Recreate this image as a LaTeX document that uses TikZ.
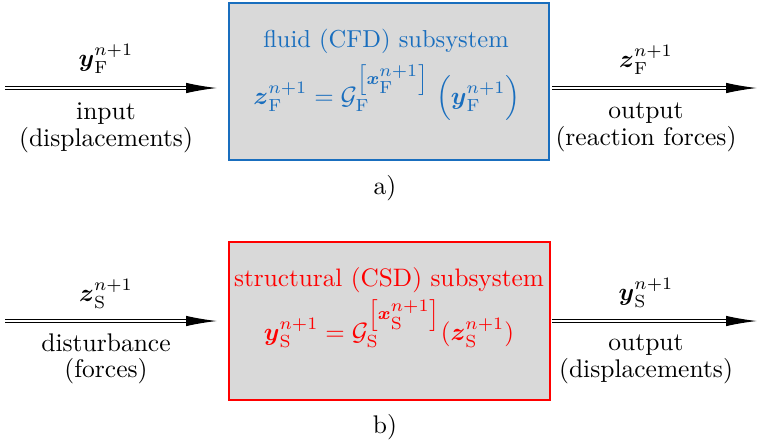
\documentclass[tikz,border=0pt]{standalone}
\usepackage{amsmath}
\usetikzlibrary{arrows.meta}
\definecolor{cfdblue}{RGB}{25,110,190}
\definecolor{csdred}{RGB}{255,0,0}
\definecolor{boxgray}{gray}{0.85}
\newcommand{\supbr}[1]{\left[\boldsymbol{x}^{\scriptstyle n+1}_{\scriptstyle\mathrm{#1}}\right]}
\begin{document}
\begin{tikzpicture}[x=0.4pt,y=-0.4pt,
  sysbox/.style={draw, line width=0.6pt, fill=boxgray, inner sep=0pt},
  lbl/.style={anchor=base, inner sep=0pt, font=\fontsize{10.2}{12}\selectfont},
  boxtxt/.style={anchor=base, inner sep=0pt, font=\fontsize{9.8}{12}\selectfont},
  dblline/.style={double, double distance=0.8pt, line width=0.5pt},
  tiparrow/.style={-{Latex[length=12.4pt,width=4.2pt]}, line width=0.5pt},
]
\useasboundingbox (0,0) rectangle (758,441);
% boxes
\node[sysbox, draw=cfdblue, minimum width=128pt, minimum height=62.8pt] (fbox) at (389,81.5) {};
\node[sysbox, draw=csdred, minimum width=128.4pt, minimum height=63.2pt] (sbox) at (389.5,321) {};
% arrow end points
\coordinate (fin) at (5,88);   \coordinate (fintip) at (217,88);
\coordinate (fout) at (552,88); \coordinate (fouttip) at (757,88);
\coordinate (sin) at (5,321);   \coordinate (sintip) at (217,321);
\coordinate (sout) at (552,321); \coordinate (souttip) at (757,321);
% arrows
\foreach \a/\b in {fin/fintip, fout/fouttip, sin/sintip, sout/souttip}{
  \draw[dblline] (\a) -- ([xshift=-8pt]\b);
  \draw[tiparrow] ([xshift=-9pt]\b) -- (\b);
}
% top labels
\node[lbl] (yF) at (106,66) {$\boldsymbol{y}^{n+1}_{\mathrm{F}}$};
\node[lbl] (inp) at (106,119) {input};
\node[lbl] (inp2) at (106,146) {(displacements)};
\node[lbl] (zF) at (646,67) {$\boldsymbol{z}^{n+1}_{\mathrm{F}}$};
\node[lbl] (outf) at (646,118) {output};
\node[lbl] (outf2) at (646,145) {(reaction forces)};
% bottom labels
\node[lbl] (zS) at (106,301) {$\boldsymbol{z}^{n+1}_{\mathrm{S}}$};
\node[lbl] (dist) at (106,351) {disturbance};
\node[lbl] (dist2) at (106,377) {(forces)};
\node[lbl] (yS) at (646,300) {$\boldsymbol{y}^{n+1}_{\mathrm{S}}$};
\node[lbl] (outs) at (646,350) {output};
\node[lbl] (outs2) at (646,377) {(displacements)};
% box texts
\node[boxtxt, text=cfdblue] (ftitle) at (386,47) {fluid (CFD) subsystem};
\node[boxtxt, text=cfdblue] (feq) at (387,104) {$\boldsymbol{z}^{n+1}_{\mathrm{F}} = \mathcal{G}_{\mathrm{F}}^{\supbr{F}}\;\Big(\boldsymbol{y}^{n+1}_{\mathrm{F}}\Big)$};
\node[boxtxt, font=\fontsize{10.1}{12}\selectfont, text=csdred] (stitle) at (389,286) {structural (CSD) subsystem};
\node[boxtxt, font=\fontsize{10.1}{12}\selectfont, text=csdred] (seq) at (389,340) {$\boldsymbol{y}^{n+1}_{\mathrm{S}} = \mathcal{G}_{\mathrm{S}}^{\supbr{S}}(\boldsymbol{z}^{n+1}_{\mathrm{S}})$};
% captions
\node[lbl] (capa) at (385,194) {a)};
\node[lbl] (capb) at (385,433) {b)};
\end{tikzpicture}
\end{document}
